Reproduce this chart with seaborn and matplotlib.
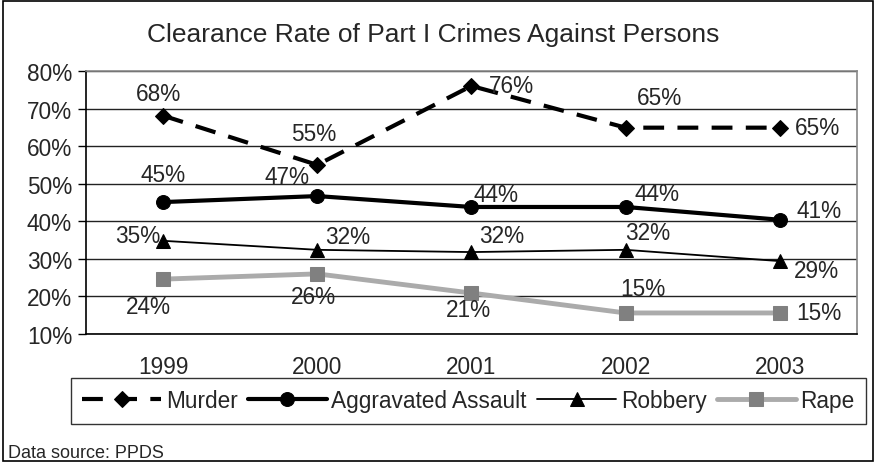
import matplotlib
matplotlib.use("Agg")
import matplotlib.pyplot as plt
import pandas as pd
import seaborn as sns
from matplotlib.patches import Rectangle

# data
years = ["1999", "2000", "2001", "2002", "2003"]
murder = [68.1, 55.0, 76.0, 64.9, 64.9]
assault = [45.1, 46.7, 43.8, 43.8, 40.4]
robbery = [34.8, 32.4, 31.8, 32.4, 29.4]
rape = [24.6, 26.0, 20.9, 15.6, 15.6]
murder_lbl = ["68%", "55%", "76%", "65%", "65%"]
assault_lbl = ["45%", "47%", "44%", "44%", "41%"]
robbery_lbl = ["35%", "32%", "32%", "32%", "29%"]
rape_lbl = ["24%", "26%", "21%", "15%", "15%"]

sns.set_style("white")
plt.rcParams["font.family"] = ["Liberation Sans", "DejaVu Sans"]
FS = 16.3

fig = plt.figure(figsize=(8.77, 4.64), dpi=100)
ax = fig.add_axes([0.098, 0.278, 0.879, 0.567])

x = list(range(len(years)))
df = pd.DataFrame({"x": x, "Murder": murder, "Aggravated Assault": assault,
                   "Robbery": robbery, "Rape": rape})

styles = {
    "Murder": dict(color="black", lw=3, marker="D", ms=8, mfc="black", mec="black",
                   dashes=(5, 3.2)),
    "Aggravated Assault": dict(color="black", lw=3, marker="o", ms=10, mfc="black", mec="black"),
    "Robbery": dict(color="black", lw=1.3, marker="^", ms=10, mfc="black", mec="black"),
    "Rape": dict(color="#ababab", lw=3.5, marker="s", ms=10, mfc="#808080", mec="#808080"),
}
for name, st in styles.items():
    st = dict(st)
    dashes = st.pop("dashes", None)
    sns.lineplot(data=df, x="x", y=name, ax=ax, label=name, **st)
    if dashes is not None:
        ax.lines[-1].set_dashes(dashes)

# value labels: offsets in pixels from each point
offsets = {
    "Murder": (murder, murder_lbl, [(-5, 22), (-4, 31), (40, 0), (34, 30), (38, 0)]),
    "Aggravated Assault": (assault, assault_lbl, [(0, 28), (-30, 20), (25, 12), (31, 13), (39, 9)]),
    "Robbery": (robbery, robbery_lbl, [(-25, 5), (30, 13), (30, 17), (22, 17), (37, -9)]),
    "Rape": (rape, rape_lbl, [(-15, -27), (-4, -23), (-3, -16), (17, 24), (39, 0)]),
}
for name, (vals, lbls, offs) in offsets.items():
    for xi, v, t, o in zip(x, vals, lbls, offs):
        ax.annotate(t, (xi, v), xytext=o, textcoords="offset pixels",
                    ha="center", va="center", fontsize=FS)

ax.set_xlim(-0.5, 4.5)
ax.set_ylim(10, 80)
ax.set_yticks(range(10, 81, 10))
ax.set_yticklabels([f"{v}%" for v in range(10, 81, 10)], fontsize=FS)
ax.set_xticks(x)
ax.set_xticklabels(years, fontsize=FS)
ax.set_xticks([i - 0.5 for i in range(6)], minor=True)
ax.tick_params(axis="x", which="major", length=0, pad=15)
ax.tick_params(axis="x", which="minor", length=6, width=1, color="black", direction="out")
ax.tick_params(axis="y", length=6, width=1, color="black", direction="out", left=True, pad=4)
ax.set_xlabel("")
ax.set_ylabel("")
ax.grid(axis="y", color="#222222", lw=1)
ax.set_axisbelow(True)
for s in ["left", "bottom"]:
    ax.spines[s].set_color("black")
    ax.spines[s].set_linewidth(1.2)
for s in ["top", "right"]:
    ax.spines[s].set_color("#888888")
    ax.spines[s].set_linewidth(1.2)

ax.get_legend().remove()
handles, labels = ax.get_legend_handles_labels()
leg = fig.legend(handles, labels, loc="center", bbox_to_anchor=(0.534, 0.134), ncol=4,
                 frameon=True, fancybox=False, edgecolor="black", fontsize=FS,
                 handlelength=3.5, columnspacing=0.45, handletextpad=0.2, borderpad=0.5)
leg.get_frame().set_linewidth(1)

fig.text(0.494, 0.925, "Clearance Rate of Part I Crimes Against Persons",
         ha="center", va="center", fontsize=19)
fig.text(0.009, 0.022, "Data source: PPDS", ha="left", va="center", fontsize=13)
fig.patches.append(Rectangle((0.003, 0.004), 0.993, 0.992, transform=fig.transFigure,
                             fill=False, edgecolor="black", lw=1.2))

fig.savefig("out.png", dpi=100)
